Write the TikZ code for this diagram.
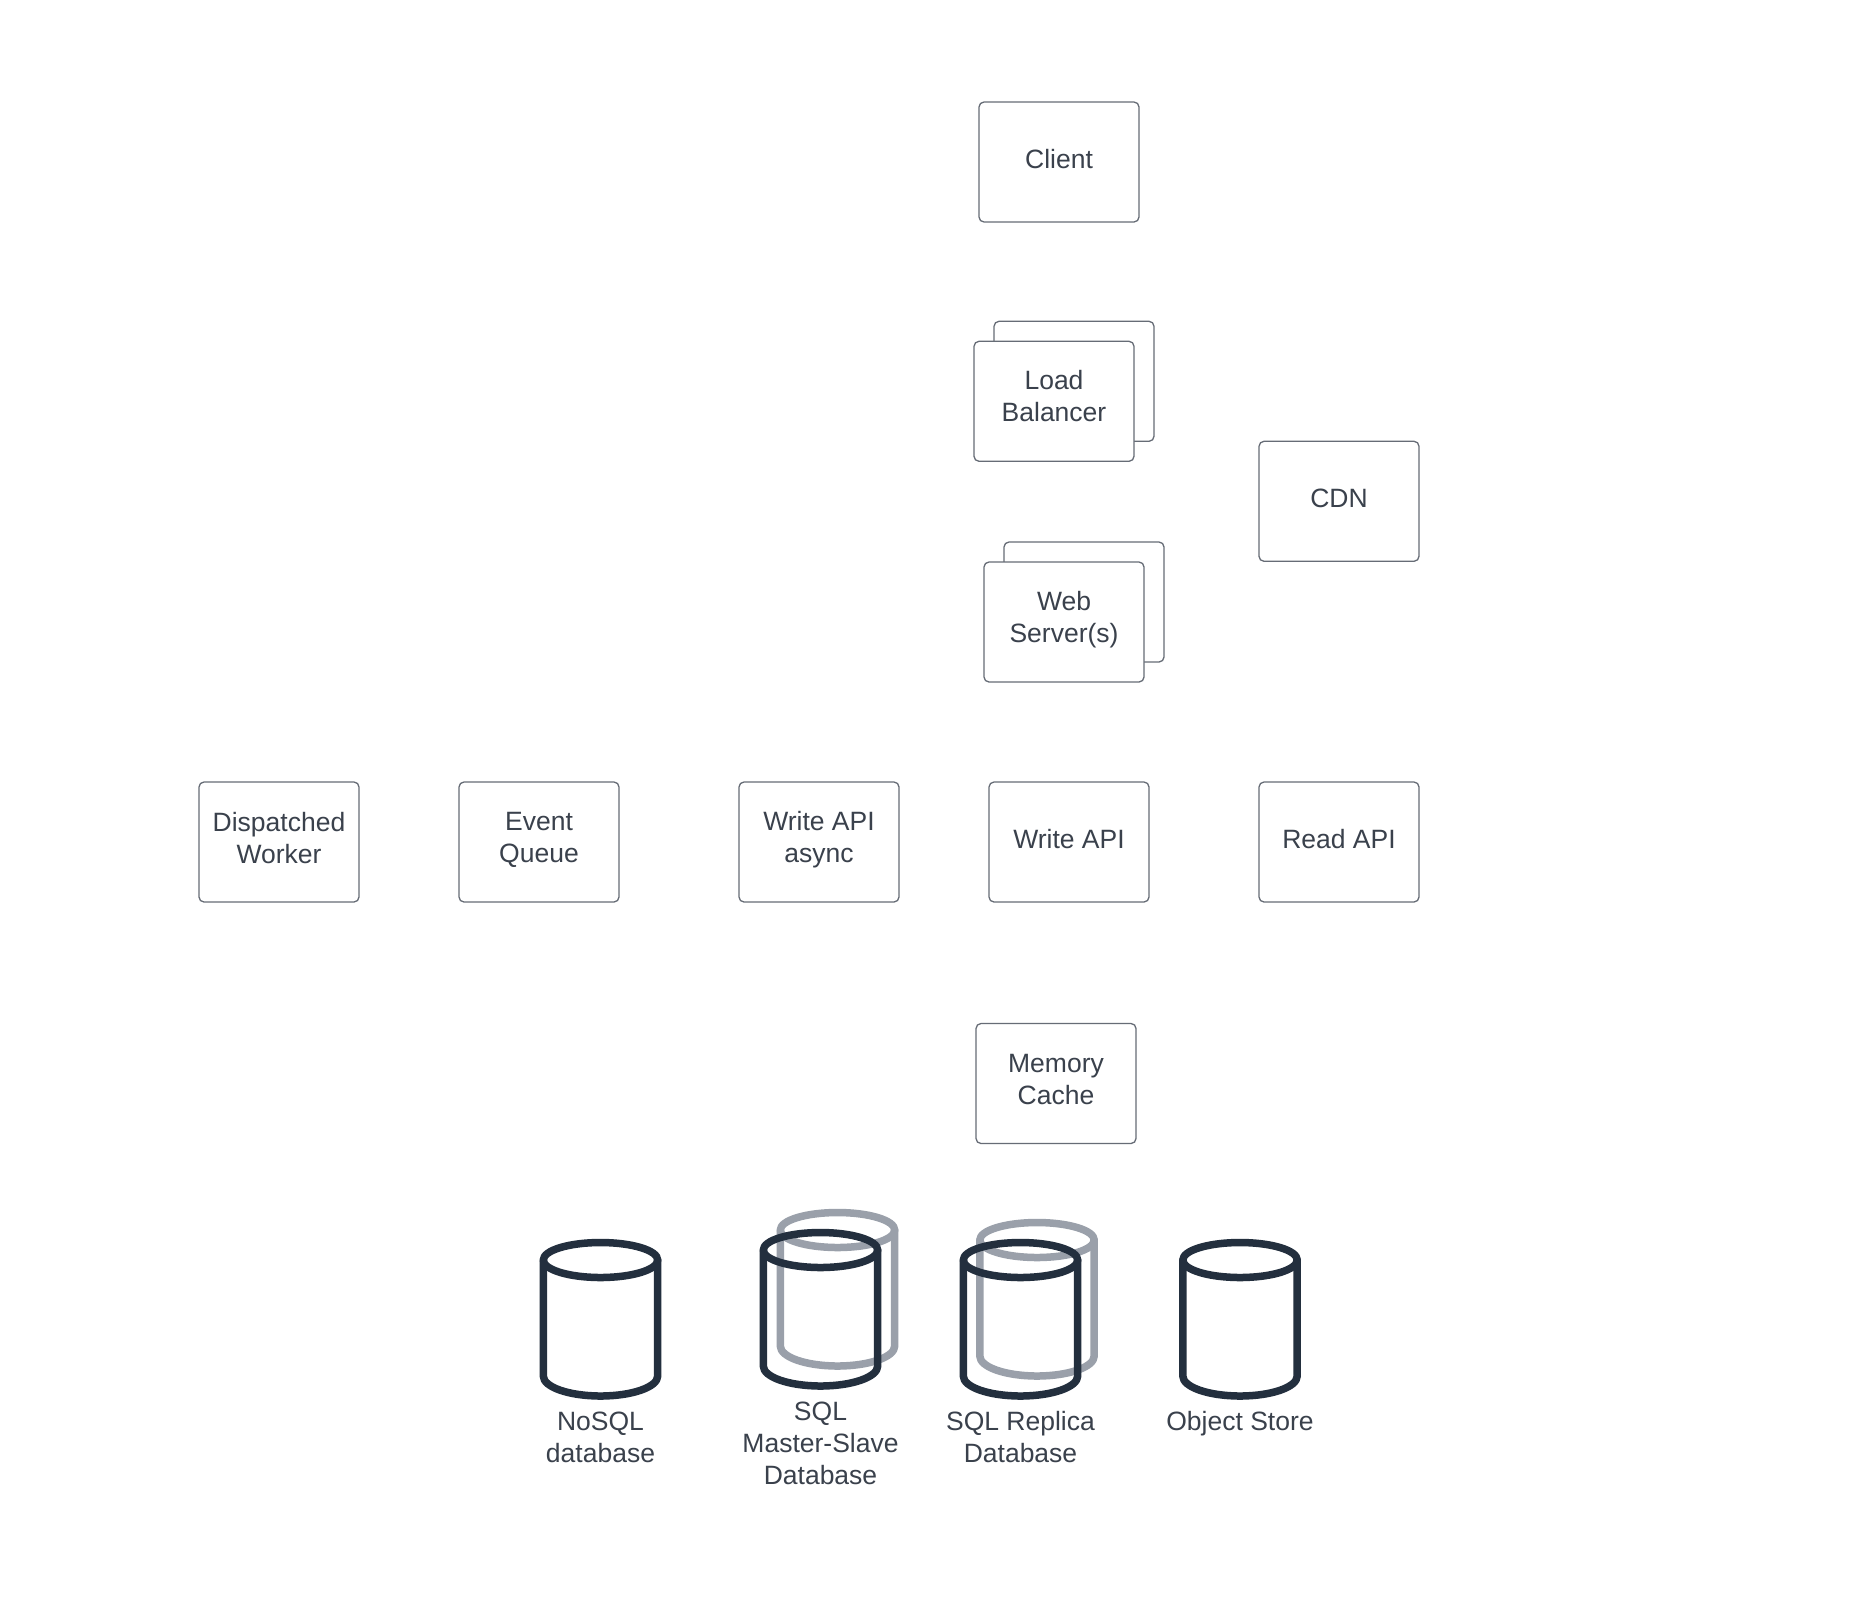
\documentclass[tikz,border=0pt]{standalone}
\usepackage{fontspec}
\setmainfont{Liberation Sans}
\definecolor{boxline}{HTML}{666C76}
\definecolor{labelink}{HTML}{3A414C}
\definecolor{dbdark}{HTML}{232F3E}
\definecolor{dbgray}{HTML}{9AA0AA}
\tikzset{
  boxnode/.style={draw=boxline,line width=1.3pt,fill=white,rounded corners=5pt,minimum width=160pt,minimum height=120pt,inner sep=0pt},
  lab/.style={text=labelink,align=center,inner sep=0pt,font=\fontsize{26.5pt}{32pt}\selectfont},
  dbstroke/.style={line width=7.5pt,line join=round,line cap=round,fill=none}
}
\newcommand{\dbcyl}[3]{% centre x, top outer y, colour
  \draw[dbstroke,draw=#3] (#1-57.2,#2+21) arc[start angle=180,end angle=-180,x radius=57.2,y radius=17.5];
  \draw[dbstroke,draw=#3] (#1-57.2,#2+21) -- (#1-57.2,#2+137) arc[start angle=180,end angle=0,x radius=57.2,y radius=20] -- (#1+57.2,#2+21);
}
\begin{document}
\begin{tikzpicture}[x=1pt,y=-1pt]
\useasboundingbox (0,0) rectangle (1851,1615);
\fill[white] (0,0) rectangle (1851,1615);
% boxes
\node[boxnode] (client) at (1059,162) {};
\node[lab] (clientT) at ([yshift=2.6pt]client.center) {Client};
\node[boxnode] (lbback) at (1074,381.3) {};
\node[boxnode] (lb) at (1054,401.3) {};
\node[lab] (lbT) at ([yshift=5pt]lb.center) {Load\\Balancer};
\node[boxnode] (cdn) at (1339,501.3) {};
\node[lab] (cdnT) at ([yshift=2.5pt]cdn.center) {CDN};
\node[boxnode] (webback) at (1084,602) {};
\node[boxnode] (web) at (1064,622) {};
\node[lab] (webT) at ([yshift=2.7pt]web.center) {Web\\Server(s)};
\node[boxnode] (worker) at (279,842) {};
\node[lab] (workerT) at ([yshift=4.2pt]worker.center) {Dispatched\\Worker};
\node[boxnode] (queue) at (539,842) {};
\node[lab] (queueT) at ([yshift=1.8pt]queue.center) {Event\\Queue};
\node[boxnode] (async) at (819,842) {};
\node[lab] (asyncT) at ([yshift=2.8pt]async.center) {Write API\\async};
\node[boxnode] (write) at (1069,842) {};
\node[lab] (writeT) at ([yshift=2.5pt]write.center) {Write API};
\node[boxnode] (read) at (1339,842) {};
\node[lab] (readT) at ([yshift=2.5pt]read.center) {Read API};
\node[boxnode] (cache) at (1056,1083.5) {};
\node[lab] (cacheT) at ([yshift=4.2pt]cache.center) {Memory\\Cache};
% databases
\dbcyl{600.5}{1239}{dbdark}
\dbcyl{837.5}{1209}{dbgray}
\dbcyl{820.5}{1229}{dbdark}
\dbcyl{1037}{1219}{dbgray}
\dbcyl{1020.5}{1239}{dbdark}
\dbcyl{1240}{1239}{dbdark}
\node[lab] (nosql) at (600.5,1437) {NoSQL\\database};
\node[lab] (master) at (820.5,1443.5) {SQL\\Master-Slave\\Database};
\node[lab] (replica) at (1020.5,1437) {SQL Replica\\Database};
\node[lab] (object) at (1240,1423.5) {Object Store};
\end{tikzpicture}
\end{document}
